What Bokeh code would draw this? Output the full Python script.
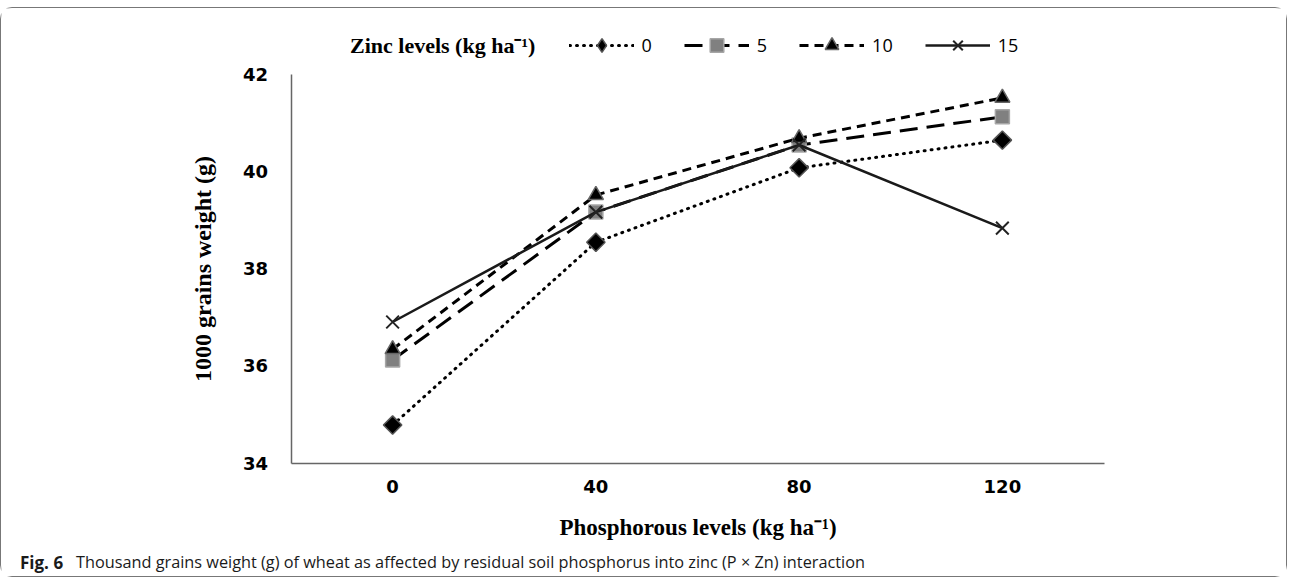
from bokeh.plotting import figure
from bokeh.models import Range1d, FixedTicker, Legend, LegendItem, Label, LinearAxis
from bokeh.embed import file_html
from bokeh.resources import INLINE

# ---- data ----
p_levels = ["0", "40", "80", "120"]
zinc_levels = ["0", "5", "10", "15"]
zn0 = [34.78, 38.54, 40.07, 40.64]
zn5 = [36.12, 39.16, 40.54, 41.12]
zn10 = [36.34, 39.51, 40.68, 41.51]
zn15 = [36.90, 39.16, 40.54, 38.83]
y_ticks = [34, 36, 38, 40, 42]
xs = list(range(len(p_levels)))

# ---- layout (page pixels) ----
W, H = 1287, 570
OX, OY = 1.5, 8.5                  # canvas origin on the page
FL, FR, FT, FB = 291, 1104, 74, 463  # plot area on the page
ppx = (FR - FL) / len(p_levels)
x0 = -0.5 - (FL - OX) / ppx
x1 = x0 + W / ppx
ppy = (FB - FT) / (y_ticks[-1] - y_ticks[0])
y1 = y_ticks[-1] + (FT - OY) / ppy
y0 = y1 - H / ppy


def sx(px):
    return px - OX


def sy(py):
    return H - (py - OY)


p = figure(width=W, height=H, x_range=Range1d(x0, x1), y_range=Range1d(y0, y1),
           x_axis_location=None, y_axis_location=None,
           output_backend="svg", toolbar_location=None,
           min_border_left=0, min_border_right=0, min_border_top=0, min_border_bottom=0)
p.styles = {"border": "1.5px solid #777777", "border-radius": "12px", "margin-top": "7px"}
p.outline_line_color = None
p.grid.visible = False

xaxis = LinearAxis(fixed_location=y_ticks[0], bounds=(-0.5, len(p_levels) - 0.5),
                   ticker=FixedTicker(ticks=xs),
                   major_label_overrides={i: s for i, s in zip(xs, p_levels)})
yaxis = LinearAxis(fixed_location=-0.5, bounds=(y_ticks[0], y_ticks[-1]),
                   ticker=FixedTicker(ticks=y_ticks))
p.add_layout(xaxis, "below")
p.add_layout(yaxis, "left")

for ax in (xaxis, yaxis):
    ax.axis_line_color = "#666666"
    ax.axis_line_width = 1.5
    ax.major_tick_line_color = None
    ax.minor_tick_line_color = None
    ax.major_label_text_font = "DejaVu Sans"
    ax.major_label_text_font_style = "bold"
    ax.major_label_text_font_size = "18px"
    ax.major_label_text_color = "#000000"
    ax.axis_label_text_font = "Liberation Serif"
    ax.axis_label_text_font_style = "bold"
    ax.axis_label_text_color = "#000000"

yaxis.major_label_standoff = 17
yaxis.axis_label = "1000 grains weight (g)"
yaxis.axis_label_text_font_size = "24px"
yaxis.axis_label_standoff = 24
xaxis.major_label_standoff = 11
xaxis.axis_label = "Phosphorous levels (kg ha\u207b\u00b9)"
xaxis.axis_label_text_font_size = "23px"
xaxis.axis_label_standoff = 18

# Zn 0: dotted line, diamond markers
l0 = p.line(xs, zn0, line_color="#000000", line_dash="1 6", line_width=3, line_cap="round")
d0 = p.scatter(xs, zn0, marker="diamond", size=17, fill_color="#000000",
               line_color="#555555", line_width=1.5)
s0 = p.scatter(xs, zn0, marker="square", angle=0.785, size=13, fill_color="#000000",
               line_color="#555555", line_width=1.5)
# Zn 5: long dash, grey squares
l5 = p.line(xs, zn5, line_color="#000000", line_dash="18 9", line_width=3)
s5 = p.scatter(xs, zn5, marker="square", size=14, fill_color="#808080",
               line_color="#a6a6a6", line_width=1.5)
# Zn 10: dash, triangles
l10 = p.line(xs, zn10, line_color="#000000", line_dash="9 6", line_width=3)
s10 = p.scatter(xs, zn10, marker="triangle", size=15, fill_color="#000000",
                line_color="#666666", line_width=1.5)
# Zn 15: solid, crosses
l15 = p.line(xs, zn15, line_color="#1a1a1a", line_width=2.5)
s15 = p.scatter(xs, zn15, marker="x", size=18, line_color="#222222", line_width=2)

items = [LegendItem(label=zinc_levels[0], renderers=[l0, d0]),
         LegendItem(label=zinc_levels[1], renderers=[l5, s5]),
         LegendItem(label=zinc_levels[2], renderers=[l10, s10]),
         LegendItem(label=zinc_levels[3], renderers=[l15, s15])]

leg = Legend(items=items, orientation="horizontal", location=(sx(569), sy(62)),
             glyph_width=65, glyph_height=34, label_standoff=8, spacing=32,
             label_width=0, padding=0, margin=0, border_line_color=None,
             background_fill_alpha=0,
             label_text_font="Open Sans", label_text_font_size="18px",
             label_text_color="#000000")
p.add_layout(leg, "center")

p.add_layout(Label(x=sx(350), y=sy(45), x_units="screen", y_units="screen",
                   text="Zinc levels (kg ha\u207b\u00b9)", text_font="Liberation Serif",
                   text_font_style="bold", text_font_size="22px", text_baseline="middle",
                   text_color="#000000"))
p.add_layout(Label(x=sx(20), y=sy(562), x_units="screen", y_units="screen",
                   text="Fig. 6", text_font="Open Sans", text_font_style="bold",
                   text_font_size="17px", text_baseline="middle", text_color="#1a1a1a"))
p.add_layout(Label(x=sx(76), y=sy(562), x_units="screen", y_units="screen",
                   text="Thousand grains weight (g) of wheat as affected by residual soil phosphorus into zinc (P \u00d7 Zn) interaction",
                   text_font="Open Sans", text_font_size="16.3px", text_baseline="middle",
                   text_color="#1a1a1a"))

open("out.html", "w").write(file_html(p, INLINE))
